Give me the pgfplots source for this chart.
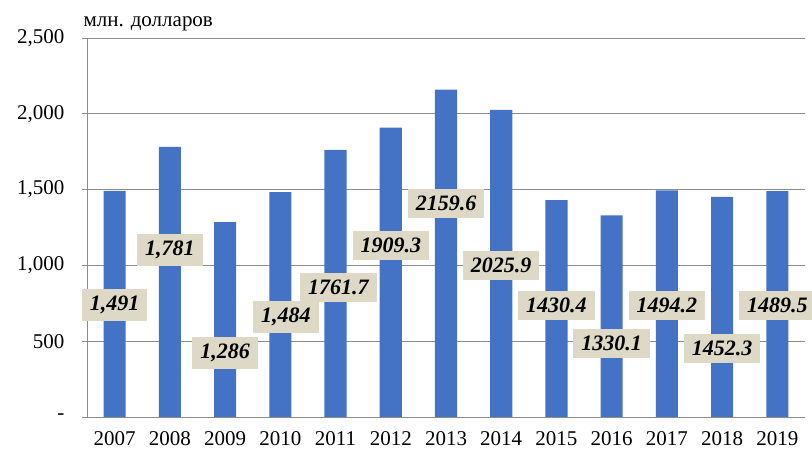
\documentclass[border=0pt]{standalone}
\usepackage{fontspec}
\setmainfont{Liberation Serif}
\newfontfamily\lblfont{Liberation Serif}[UprightFont={* Bold Italic}]
\usepackage{pgfplots}
\usepackage{pgfplotstable}
\pgfplotsset{compat=1.18}
\definecolor{barblue}{RGB}{68,114,196}
\definecolor{lblbg}{RGB}{221,217,198}
\definecolor{gridgray}{RGB}{140,140,140}
\pgfplotstableread{
x y
0 1491
1 1781
2 1286
3 1484
4 1761.7
5 1909.3
6 2159.6
7 2025.9
8 1430.4
9 1330.1
10 1494.2
11 1452.3
12 1489.5
}\bardata
\pgfplotstableread{
x y label
0 737 1,491
1 1099 1,781
2 421 1,286
3.1 658 1,484
4.05 855 1761.7
5 1132 1909.3
6 1408 2159.6
7 1000 2025.9
8 737 1430.4
9 487 1330.1
10 737 1494.2
11 454 1452.3
12 737 1489.5
}\labeldata
\begin{document}
\begin{tikzpicture}
\useasboundingbox (-87pt,-37pt) rectangle (725pt,417pt);
\begin{axis}[
  at={(0,0)}, anchor=south west,
  scale only axis, width=718pt, height=379pt,
  xmin=-0.5, xmax=12.5, ymin=0, ymax=2500,
  axis x line*=bottom, axis y line*=left,
  axis line style={gridgray, line width=0.8pt},
  clip=false,
  ytick={0,500,1000,1500,2000,2500},
  yticklabels={-,500,{1,000},{1,500},{2,000},{2,500}},
  xtick={0,...,12},
  xticklabels={2007,2008,2009,2010,2011,2012,2013,2014,2015,2016,2017,2018,2019},
  minor xtick={-0.5,0.5,...,12.5},
  tick align=outside,
  major tick length=5pt, minor tick length=5pt,
  xtick style={draw=none},
  minor x tick style={gridgray, line width=0.8pt},
  ytick style={gridgray, line width=0.8pt},
  ymajorgrids, grid style={gridgray, line width=0.8pt},
  /pgf/number format/assume math mode=true,
  yticklabel style={font=\fontsize{21}{22}\selectfont, xshift=-14pt},
  xticklabel style={font=\fontsize{21}{22}\selectfont, yshift=-6pt},
]
\addplot[ybar, bar width=0.4, fill=barblue, draw=none] table[x=x, y=y] {\bardata};
\addplot[only marks, mark=none, point meta=explicit symbolic,
  nodes near coords={\lblfont\fontsize{22}{24}\selectfont\pgfplotspointmeta},
  nodes near coords style={anchor=center, fill=lblbg, text=black,
    inner xsep=8pt, inner ysep=7pt}]
  table[x=x, y=y, meta=label] {\labeldata};
\node[anchor=base west, font=\fontsize{21}{24}\selectfont] at (rel axis cs:0,1) [xshift=-7pt, yshift=11pt] {млн. долларов};
\end{axis}
\end{tikzpicture}
\end{document}
